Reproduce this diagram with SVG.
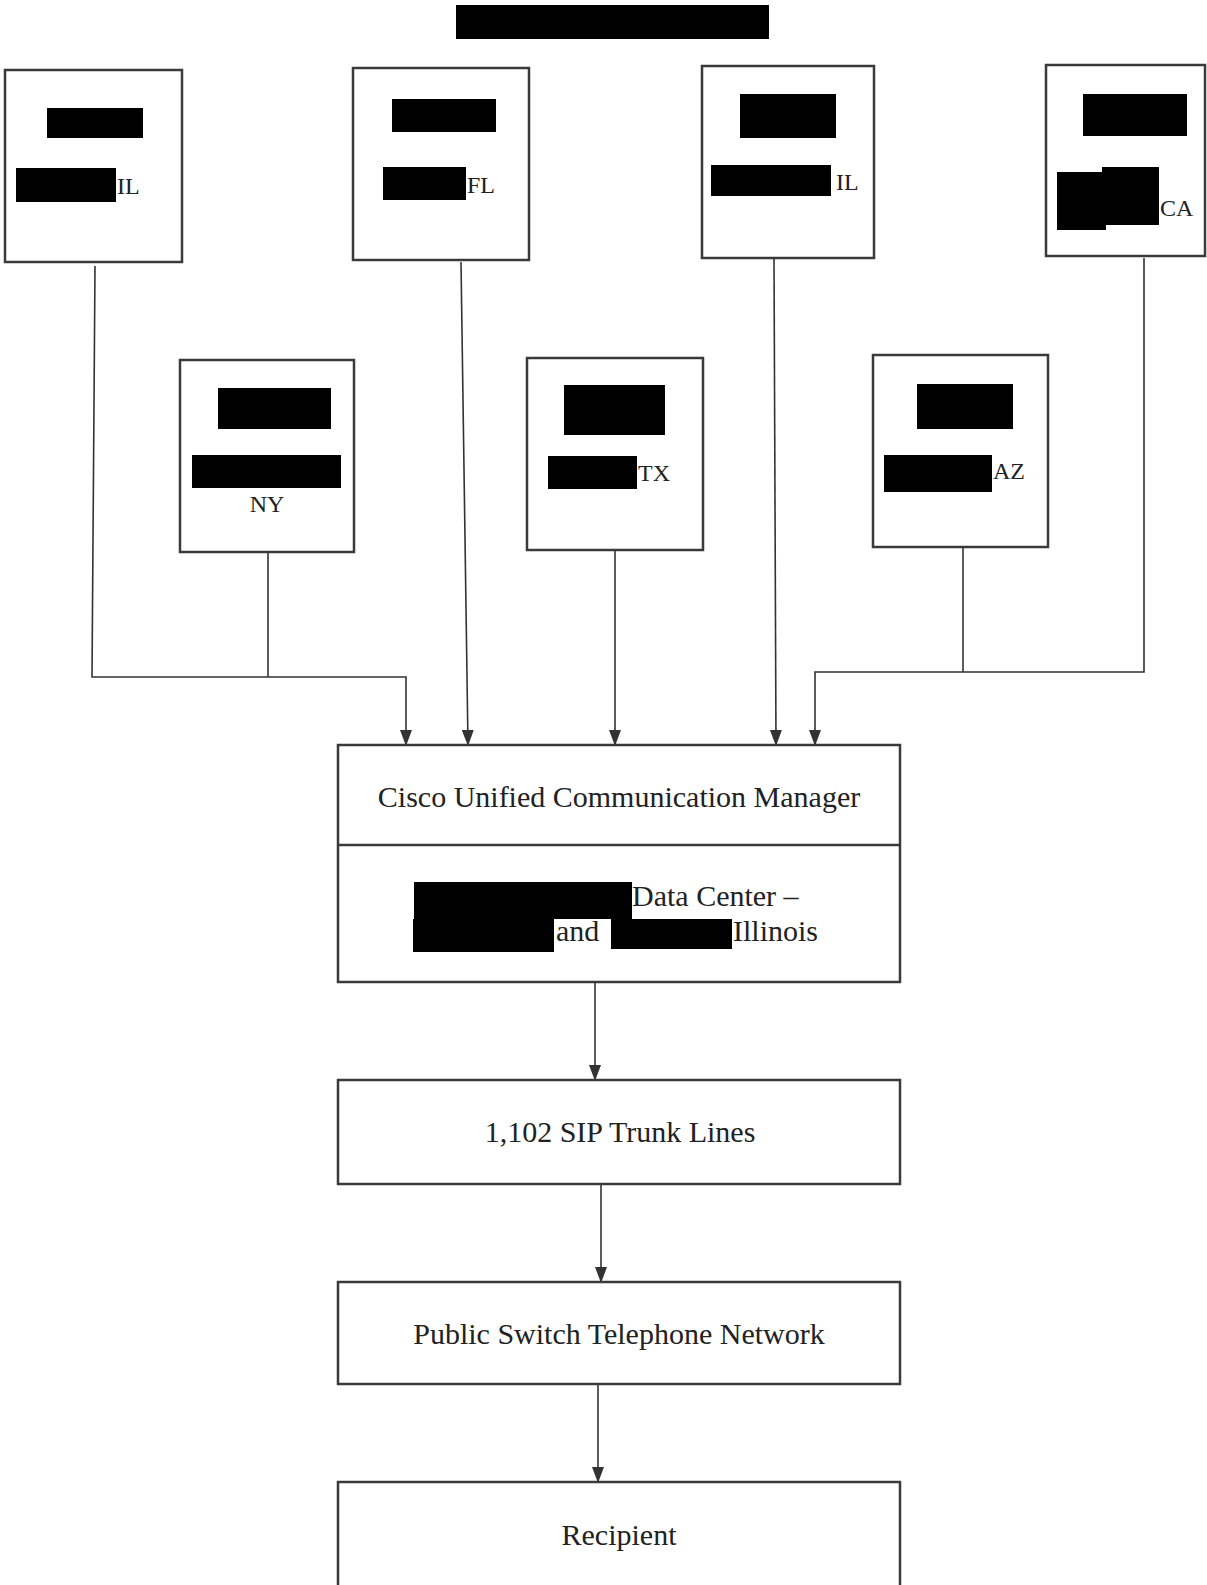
<svg xmlns="http://www.w3.org/2000/svg" width="1207" height="1585" viewBox="0 0 1207 1585">
<style>
.box{fill:#fff;stroke:#3a3a3a;stroke-width:2.5}
.red{fill:#000}
.st{font-family:"Liberation Serif","Times New Roman",serif;font-size:24px;fill:#222}
.mt{font-family:"Liberation Serif","Times New Roman",serif;font-size:30px;fill:#222;text-anchor:middle}
.dt{font-family:"Liberation Serif","Times New Roman",serif;font-size:30px;fill:#222}
.ln{fill:none;stroke:#333;stroke-width:1.6}
</style>
<defs>
<marker id="arr" markerUnits="userSpaceOnUse" markerWidth="16" markerHeight="12" refX="15" refY="6" orient="auto" viewBox="0 0 16 12">
<path d="M0,0 L16,6 L0,12 Z" fill="#333"/>
</marker>
</defs>
<rect width="1207" height="1585" fill="#fff"/>
<rect id="title" class="red" x="456" y="5" width="313" height="34"/>

<g id="connectors">
<polyline class="ln" points="95,266 92,677 406,677 406,745" marker-end="url(#arr)"/>
<line class="ln" x1="268" y1="552" x2="268" y2="677"/>
<line class="ln" x1="461" y1="262" x2="468" y2="745" marker-end="url(#arr)"/>
<line class="ln" x1="615" y1="550" x2="615" y2="745" marker-end="url(#arr)"/>
<line class="ln" x1="774" y1="258" x2="776" y2="745" marker-end="url(#arr)"/>
<line class="ln" x1="963" y1="547" x2="963" y2="672"/>
<polyline class="ln" points="1144,258 1144,672 815,672 815,745" marker-end="url(#arr)"/>
<line class="ln" x1="595" y1="982" x2="595" y2="1080" marker-end="url(#arr)"/>
<line class="ln" x1="601" y1="1184" x2="601" y2="1282" marker-end="url(#arr)"/>
<line class="ln" x1="598" y1="1384" x2="598" y2="1482" marker-end="url(#arr)"/>
</g>

<g id="site-il-1">
<rect class="box" x="5" y="70" width="177" height="192"/>
<rect class="red" x="47" y="108" width="96" height="30"/>
<rect class="red" x="16" y="168" width="100" height="34"/>
<text class="st" x="117" y="194">IL</text>
</g>
<g id="site-fl">
<rect class="box" x="353" y="68" width="176" height="192"/>
<rect class="red" x="392" y="99" width="104" height="33"/>
<rect class="red" x="383" y="167" width="83" height="33"/>
<text class="st" x="467" y="193">FL</text>
</g>
<g id="site-il-2">
<rect class="box" x="702" y="66" width="172" height="192"/>
<rect class="red" x="740" y="94" width="96" height="44"/>
<rect class="red" x="711" y="165" width="120" height="31"/>
<text class="st" x="836" y="190">IL</text>
</g>
<g id="site-ca">
<rect class="box" x="1046" y="65" width="159" height="191"/>
<rect class="red" x="1083" y="94" width="104" height="42"/>
<rect class="red" x="1057" y="172" width="49" height="58"/>
<rect class="red" x="1102" y="167" width="57" height="58"/>
<text class="st" x="1160" y="216">CA</text>
</g>
<g id="site-ny">
<rect class="box" x="180" y="360" width="174" height="192"/>
<rect class="red" x="218" y="388" width="113" height="41"/>
<rect class="red" x="192" y="455" width="149" height="33"/>
<text class="st" x="267" y="512" text-anchor="middle">NY</text>
</g>
<g id="site-tx">
<rect class="box" x="527" y="358" width="176" height="192"/>
<rect class="red" x="564" y="385" width="101" height="50"/>
<rect class="red" x="548" y="456" width="89" height="33"/>
<text class="st" x="638" y="481">TX</text>
</g>
<g id="site-az">
<rect class="box" x="873" y="355" width="175" height="192"/>
<rect class="red" x="917" y="384" width="96" height="45"/>
<rect class="red" x="884" y="455" width="108" height="37"/>
<text class="st" x="993" y="479">AZ</text>
</g>

<g id="cucm">
<rect class="box" x="338" y="745" width="562" height="237"/>
<line class="box" x1="338" y1="845" x2="900" y2="845"/>
<text class="mt" x="619" y="807">Cisco Unified Communication Manager</text>
<rect class="red" x="414" y="882" width="218" height="37"/>
<text class="dt" x="632" y="906">Data Center –</text>
<rect class="red" x="413" y="919" width="141" height="33"/>
<text class="dt" x="556" y="941">and</text>
<rect class="red" x="611" y="919" width="121" height="30"/>
<text class="dt" x="733" y="941">Illinois</text>
</g>
<g id="sip">
<rect class="box" x="338" y="1080" width="562" height="104"/>
<text class="mt" x="620" y="1142">1,102 SIP Trunk Lines</text>
</g>
<g id="pstn">
<rect class="box" x="338" y="1282" width="562" height="102"/>
<text class="mt" x="619" y="1344">Public Switch Telephone Network</text>
</g>
<g id="recipient">
<rect class="box" x="338" y="1482" width="562" height="110"/>
<text class="mt" x="619" y="1545">Recipient</text>
</g>
</svg>
